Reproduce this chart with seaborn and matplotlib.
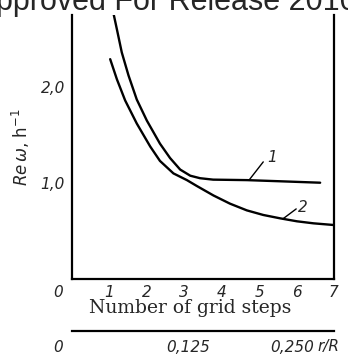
import matplotlib
matplotlib.use("Agg")
import matplotlib.pyplot as plt
import seaborn as sns
import pandas as pd

# data
steps_1 = [1.09, 1.20, 1.33, 1.51, 1.73, 2.00, 2.35, 2.62, 2.89, 3.16, 3.42, 3.77, 4.67, 5.56, 6.63]
rew_1   = [2.80, 2.60, 2.36, 2.12, 1.87, 1.65, 1.41, 1.26, 1.14, 1.076, 1.05, 1.035, 1.03, 1.018, 1.003]
steps_2 = [1.02, 1.20, 1.42, 1.73, 2.09, 2.35, 2.71, 3.07, 3.33, 3.78, 4.22, 4.67, 5.11, 5.56, 6.01, 6.45, 6.99]
rew_2   = [2.29, 2.08, 1.86, 1.62, 1.38, 1.23, 1.10, 1.03, 0.97, 0.87, 0.785, 0.715, 0.667, 0.632, 0.601, 0.58, 0.5625]
x_ticks = [1, 2, 3, 4, 5, 6, 7]
y_ticks = [1.0, 2.0]
y_tick_labels = ["1,0", "2,0"]
rr_labels = ["0,125", "0,250"]

sns.set_theme(style="white")
plt.rcParams["font.family"] = ["DejaVu Sans"]

W, H = 348, 358
fig = plt.figure(figsize=(W / 100, H / 100), dpi=100)

def fx(px):
    return px / W

def fy(py):
    return 1 - py / H

ax = fig.add_axes([fx(72), fy(279), fx(334) - fx(72), fy(15) - fy(279)])
df1 = pd.DataFrame({"steps": steps_1, "rew": rew_1})
df2 = pd.DataFrame({"steps": steps_2, "rew": rew_2})
sns.lineplot(data=df1, x="steps", y="rew", ax=ax, color="black", lw=1.7, sort=False)
sns.lineplot(data=df2, x="steps", y="rew", ax=ax, color="black", lw=1.7, sort=False)
ax.set_xlim(0, 7)
ax.set_ylim(0, 2.75)
ax.set_xlabel("")
for s in ["left", "right", "bottom"]:
    ax.spines[s].set_visible(True)
    ax.spines[s].set_color("black")
    ax.spines[s].set_linewidth(1.6)
ax.spines["top"].set_visible(False)
ax.set_yticks(y_ticks)
ax.set_yticklabels(y_tick_labels, fontsize=11, style="italic")
ax.tick_params(axis="y", direction="in", length=10, width=1.2, color="black", pad=5)
ax.set_xticks(x_ticks[:-1])
ax.set_xticklabels([str(v) for v in x_ticks[:-1]], fontsize=11, style="italic")
ax.tick_params(axis="x", direction="in", length=6, width=1.0, color="black", pad=4)
fig.text(fx(333), fy(300), str(x_ticks[-1]), fontsize=11, style="italic", ha="center", va="bottom")
fig.text(fx(58), fy(300), "0", fontsize=11, style="italic", ha="center", va="bottom")

# curve labels and leaders
ax.plot([4.73, 5.11], [1.03, 1.22], color="black", lw=1.0)
ax.text(5.35, 1.27, "1", fontsize=11, style="italic", ha="center", va="center")
ax.plot([5.64, 5.99], [0.628, 0.73], color="black", lw=1.0)
ax.text(6.18, 0.74, "2", fontsize=11, style="italic", ha="center", va="center")

ax.set_ylabel(r"$Re\,\omega$, h$^{-1}$", fontsize=12, labelpad=6)

fig.text(fx(190), fy(308), "Number of grid steps", fontsize=13.5, family="DejaVu Serif",
         ha="center", va="center")

# secondary r/R scale
ax2 = fig.add_axes([fx(72), fy(331), fx(334) - fx(72), 0.01])
ax2.set_xlim(0, 7)
ax2.set_ylim(0, 1)
for s in ["left", "right", "top"]:
    ax2.spines[s].set_visible(False)
ax2.spines["bottom"].set_visible(True)
ax2.spines["bottom"].set_color("black")
ax2.spines["bottom"].set_linewidth(1.6)
ax2.set_yticks([])
ax2.set_xticks([0, 1, 2, 3, 4, 5, 6, 7])
ax2.set_xticklabels([])
ax2.tick_params(axis="x", direction="in", length=5, width=1.0, color="black")
ax2.set_facecolor("none")
fig.text(fx(58), fy(347), "0", fontsize=11, style="italic", ha="center", va="center")
fig.text(fx(188), fy(347), rr_labels[0], fontsize=11, style="italic", ha="center", va="center")
fig.text(fx(292), fy(347), rr_labels[1], fontsize=11, style="italic", ha="center", va="center")
fig.text(fx(328), fy(347), "r/R", fontsize=11, style="italic", ha="center", va="center")

# cropped header text
fig.text(fx(-4), fy(10), "pproved For Release 2010", fontsize=22, family="Liberation Sans",
         ha="left", va="baseline")

fig.savefig("out.png", dpi=100)
